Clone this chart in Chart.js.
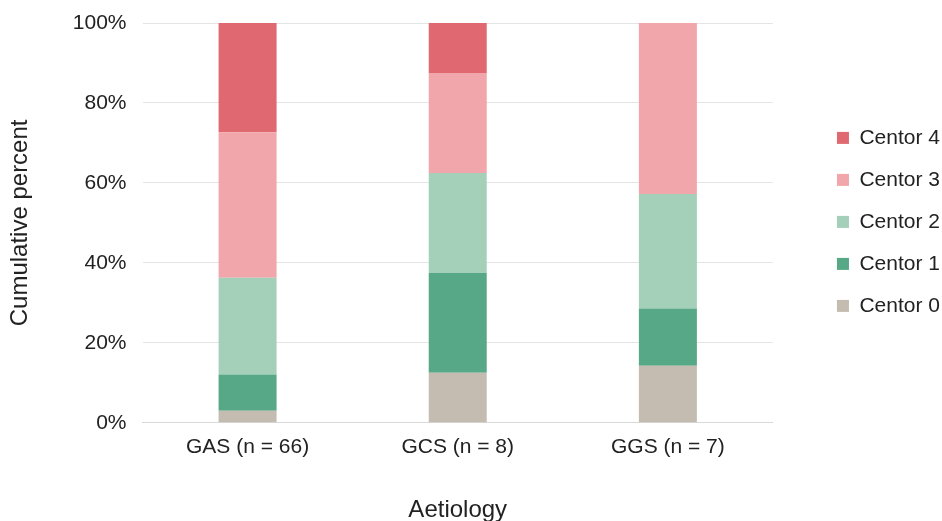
<!DOCTYPE html>
<html lang="en">
<head>
    <meta charset="UTF-8">
    <title>Centor score by aetiology</title>
    <script src="https://cdn.jsdelivr.net/npm/chart.js@4.4.1/dist/chart.umd.min.js"></script>
    <style>
        body {
            margin: 0;
            background-color: white;
        }
        .chart-container {
            position: relative;
            width: 942px;
            height: 521px;
        }
    </style>
</head>
<body>
    <div class="chart-container">
        <canvas id="centorChart"></canvas>
    </div>

    <script>
        const categories = ['GAS (n = 66)', 'GCS (n = 8)', 'GGS (n = 7)'];
        const centor0 = [3.0, 12.5, 14.3];
        const centor1 = [9.1, 25.0, 14.3];
        const centor2 = [24.2, 25.0, 28.6];
        const centor3 = [36.4, 25.0, 42.8];
        const centor4 = [27.3, 12.5, 0];
        const yTicks = [0, 20, 40, 60, 80, 100];

        const series = [
            { label: 'Centor 0', data: centor0, color: '#c4bcb1' },
            { label: 'Centor 1', data: centor1, color: '#57a886' },
            { label: 'Centor 2', data: centor2, color: '#a4cfb9' },
            { label: 'Centor 3', data: centor3, color: '#f0a6aa' },
            { label: 'Centor 4', data: centor4, color: '#e06870' }
        ];

        Chart.defaults.font.family = "'Liberation Sans', Arial, sans-serif";
        Chart.defaults.color = '#222';

        // nudge the legend to the right edge, like the original
        const legendShift = {
            id: 'legendShift',
            afterLayout(chart) {
                const lg = chart.legend;
                const w = lg.right - lg.left;
                lg.left = 942 - w + 8;
                lg.right = lg.left + w;
            }
        };

        const ctx = document.getElementById('centorChart').getContext('2d');
        new Chart(ctx, {
            type: 'bar',
            data: {
                labels: categories,
                datasets: series.map(s => ({
                    label: s.label,
                    data: s.data,
                    backgroundColor: s.color,
                    borderWidth: 0,
                    categoryPercentage: 1,
                    barPercentage: 0.276
                }))
            },
            plugins: [legendShift],
            options: {
                responsive: true,
                maintainAspectRatio: false,
                animation: false,
                layout: { padding: { top: 23, right: 0, bottom: 0, left: 6 } },
                plugins: {
                    legend: {
                        position: 'right',
                        align: 'start',
                        reverse: true,
                        title: {
                            display: true,
                            text: ' ',
                            padding: { top: 49, bottom: 20 }
                        },
                        labels: {
                            boxWidth: 12,
                            boxHeight: 12,
                            padding: 21,
                            font: { size: 21 }
                        }
                    },
                    tooltip: { enabled: false }
                },
                scales: {
                    x: {
                        stacked: true,
                        grid: { display: false, drawTicks: false },
                        border: { color: '#d9d9d9' },
                        ticks: { font: { size: 21 }, padding: 12 },
                        title: {
                            display: true,
                            text: 'Aetiology',
                            font: { size: 24, lineHeight: 0.875 },
                            padding: { top: 28, bottom: 0 }
                        }
                    },
                    y: {
                        stacked: true,
                        min: 0,
                        max: 100,
                        afterBuildTicks: axis => {
                            axis.ticks = yTicks.map(v => ({ value: v }));
                        },
                        grid: {
                            color: '#e4e4e4',
                            drawTicks: true,
                            tickLength: 16,
                            tickColor: 'rgba(0,0,0,0)'
                        },
                        border: { display: false },
                        ticks: {
                            font: { size: 21 },
                            padding: 0,
                            callback: v => v + '%'
                        },
                        title: {
                            display: true,
                            text: 'Cumulative percent',
                            font: { size: 24 },
                            padding: { top: 0, bottom: 38 }
                        }
                    },
                    gap: {
                        position: 'right',
                        display: true,
                        grid: { display: false },
                        border: { display: false },
                        ticks: { display: false },
                        afterFit: axis => { axis.width = 35; }
                    }
                }
            }
        });
    </script>
</body>
</html>
